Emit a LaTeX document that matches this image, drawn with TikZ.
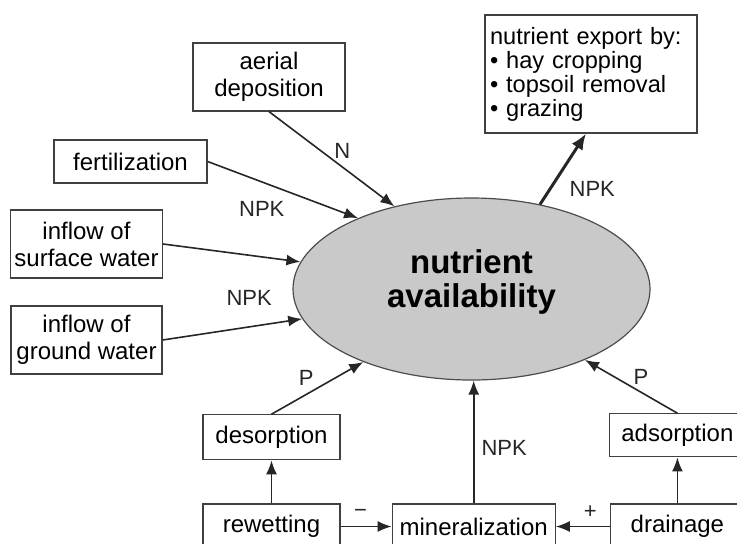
\documentclass[tikz,border=0pt]{standalone}
\usepackage{fontspec}
\setmainfont{Liberation Sans}
\usetikzlibrary{arrows.meta,positioning,shapes.geometric}

\begin{document}
\begin{tikzpicture}[x=0.5pt, y=-0.5pt,
  font=\fontsize{12}{13.5}\selectfont,
  box/.style={draw=black!75, line width=0.6pt, align=center, fill=white, inner sep=2pt},
  pool/.style={ellipse, draw=black!70, line width=0.6pt, fill=black!21, inner sep=0pt, minimum width=178.5pt, minimum height=91pt, align=center, font=\fontsize{16.5}{17}\selectfont\bfseries, text depth=10pt},
  flow/.style={-{Latex[length=7pt, width=5.5pt]}, line width=0.8pt, black!85},
  lab/.style={font=\fontsize{11}{12}\selectfont, inner sep=1pt}]
\path[use as bounding box, clip] (0,0) rectangle (737,543);
% pool
\node[pool] (avail) at (471.5,289) {nutrient\\availability};
% inputs
\node[box, minimum width=76pt, minimum height=34pt] (aer) at (269,77) {aerial\\deposition};
\node[box, minimum width=76.5pt, minimum height=21.5pt] (fert) at (130.5,161.5) {fertilization};
\node[box, minimum width=75.5pt, minimum height=34pt] (surf) at (86.5,244) {inflow of\\surface water};
\node[box, minimum width=75.5pt, minimum height=34pt] (grnd) at (86.5,340) {inflow of\\ground water};
% export
\node[box, align=left, text width=101pt, inner xsep=2.5pt, inner ysep=5pt, minimum height=59pt, font=\fontsize{11.8}{12}\selectfont] (exp) at (591,74)
  {nutrient export by:\\ \textbullet{} hay cropping\\ \textbullet{} topsoil removal\\ \textbullet{} grazing};
% processes
\node[box, minimum width=68.5pt, minimum height=22.5pt] (rewet) at (271.5,526.5) {rewetting};
\node[box, minimum width=81.5pt, minimum height=22.5pt, right=25.5pt of rewet] (mineral) {mineralization};
\node[box, minimum width=67pt, minimum height=22.5pt, right=27pt of mineral] (drain) {drainage};
\node[box, minimum width=68.5pt, minimum height=22.5pt, above=21.5pt of rewet] (desorp) {desorption};
\node[box, minimum width=68pt, minimum height=21.5pt, above=23pt of drain] (adsorp) {adsorption};
% flows
\draw[flow] (aer.south) -- node[lab, pos=.41, xshift=11pt] {N} (avail.133);
\draw[flow] (fert.east) -- node[lab, pos=.36, yshift=-13.6pt] {NPK} (avail.148);
\draw[flow] (surf.east) -- (avail.171);
\draw[flow] (grnd.east) -- node[lab, pos=.62, yshift=14.6pt] {NPK} (avail.190);
\draw[flow] (desorp.north) -- node[lab, pos=.4, xshift=-1pt, yshift=7.5pt] {P} (avail.214);
\draw[flow] (mineral.north) -- node[lab, pos=.45, right=2.5pt] {NPK} (mineral.north |- avail.south);
\draw[flow] (adsorp.north) -- node[lab, pos=.685, xshift=13.5pt] {P} (avail.328);
\draw[flow, line width=1.5pt, -{Latex[length=8pt, width=6.5pt]}] (avail.51) -- node[lab, pos=.22, right=8pt] {NPK} ([xshift=-2.5pt]exp.south);
\draw[flow] (rewet.east) -- node[lab, pos=.39, above=3pt] {−} (mineral.west);
\draw[flow] (drain.west) -- node[lab, pos=.36, above=2.5pt] {+} (mineral.east);
\draw[flow] (rewet) -- (desorp);
\draw[flow] (drain) -- (adsorp);
\end{tikzpicture}
\end{document}
